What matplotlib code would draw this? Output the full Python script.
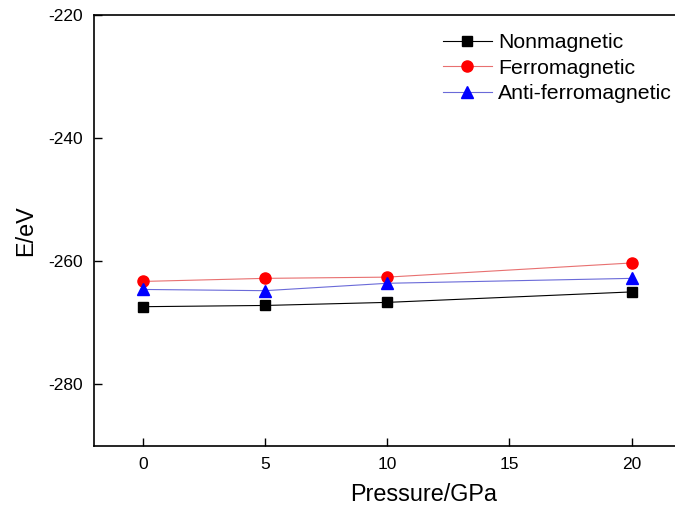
import matplotlib
matplotlib.use("Agg")
import matplotlib.pyplot as plt

plt.rcParams['font.family'] = ['Liberation Sans', 'DejaVu Sans']
plt.rcParams['axes.unicode_minus'] = False

# pressure points (GPa) and total energies (eV)
pressure = [0, 5, 10, 20]
nonmagnetic = [-267.4, -267.2, -266.7, -265.0]
ferromagnetic = [-263.3, -262.8, -262.6, -260.3]
antiferro = [-264.6, -264.8, -263.6, -262.8]

x_ticks = [0, 5, 10, 15, 20]
y_ticks = [-280, -260, -240, -220]

fig = plt.figure(figsize=(6.75, 5.09), dpi=100)
# the original axes run past the right edge of the picture
ax = fig.add_axes([0.139, 0.124, 0.978, 0.847])

ax.plot(pressure, nonmagnetic, color='black', lw=0.8, marker='s', ms=7,
        label='Nonmagnetic')
ax.plot(pressure, ferromagnetic, color='#e87070', lw=0.8, marker='o', ms=8,
        mfc='red', mec='red', label='Ferromagnetic')
ax.plot(pressure, antiferro, color='#6a6ad8', lw=0.8, marker='^', ms=8,
        mfc='blue', mec='blue', label='Anti-ferromagnetic')

ax.set_xlim(-2, 25)
ax.set_ylim(-290, -220)
ax.set_xticks(x_ticks)
ax.set_yticks(y_ticks)
ax.tick_params(direction='in', length=6, width=1, labelsize=12.5, pad=8)
for s in ax.spines.values():
    s.set_linewidth(1.2)

ax.set_xlabel('Pressure/GPa', fontsize=16.8, labelpad=8)
ax.set_ylabel('E/eV', fontsize=16.8, labelpad=8)

ax.legend(loc='upper left', bbox_to_anchor=(434 / 675, 1 - 25 / 509),
          bbox_transform=fig.transFigure, frameon=False,
          fontsize=15.3, handlelength=2.35, handletextpad=0.25,
          labelspacing=0.3, borderaxespad=0)

fig.savefig('out.png', dpi=100)
